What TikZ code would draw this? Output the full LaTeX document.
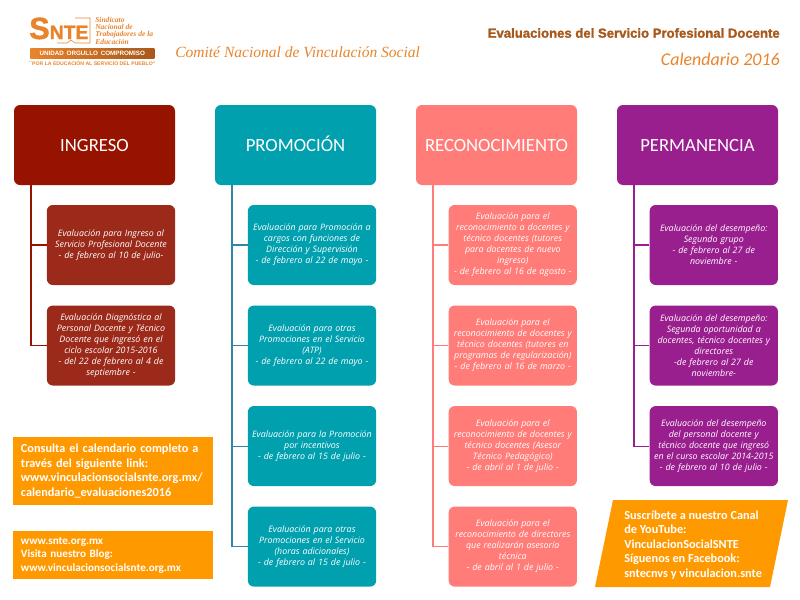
\documentclass[tikz,border=0pt]{standalone}
\usepackage{fontspec}
\setmainfont{Open Sans}
\newfontfamily\carlito{Carlito}
\newfontfamily\libsans{Liberation Sans}
\newfontfamily\libheavy[FakeBold=1.5]{Liberation Sans Bold}
\newfontfamily\libserif{Liberation Serif}
\usepackage{xcolor}
\usetikzlibrary{positioning,shapes.geometric}
\definecolor{ingresoC}{HTML}{961300}
\definecolor{ingresoS}{HTML}{9C2A1A}
\definecolor{promoC}{HTML}{00A0AF}
\definecolor{promoL}{HTML}{2F87A6}
\definecolor{recoC}{HTML}{FF7C78}
\definecolor{permaC}{HTML}{9A1F8E}
\definecolor{avisoC}{HTML}{FF9900}
\definecolor{logoC}{HTML}{E8842C}
\definecolor{logoD}{HTML}{A8581A}

\begin{document}
\begin{tikzpicture}[x=0.75pt,y=-0.75pt,
head/.style={draw=none, rounded corners=4.5pt, minimum width=120.75pt, minimum height=60pt,
    inner sep=0pt, text=white, text height=10pt, text depth=1pt,
    font=\carlito\fontsize{14}{16}\selectfont},
sub/.style={draw=none, rounded corners=4.5pt, minimum width=96.2pt, minimum height=60pt,
    text width=96pt, inner sep=0pt, align=center, text=white,
    font=\fontsize{6.65}{8.25}\selectfont\itshape},
aviso/.style={draw=none, fill=avisoC, inner sep=0pt, text=white, align=left,
    font=\carlito\bfseries},
link/.style={line width=0.85pt}]
\useasboundingbox (0,0) rectangle (800,600);

% logo
\node (snteS) [anchor=base west, inner sep=0pt, text=logoC, font=\libheavy\fontsize{23}{23}\selectfont] at (29,39) {S};
\node (snteN) [anchor=base west, inner sep=0pt, text=logoC, font=\libheavy\fontsize{14.5}{15}\selectfont] at (49.5,39) {NTE};
\draw[logoC, thin] (75,18) -- (90,18) -- (90,43) -- (75,43) -- (71,40) -- (67,43) -- (57,43);
\node (snteTxt) [anchor=west, inner sep=0pt, align=left, text=logoC,
    font=\libserif\bfseries\itshape\fontsize{5.65}{5}\selectfont] at (95,31) {Sindicato\\Nacional de\\Trabajadores de la\\Educación};
\node (snteBar) [anchor=west, inner sep=0pt, minimum width=93pt, minimum height=7.5pt, left color=logoC, right color=logoD,
    text=white, font=\libsans\bfseries\fontsize{4.7}{5}\selectfont] at (30,53) {UNIDAD\, ORGULLO\, COMPROMISO};
\node (snteLema) [inner sep=0pt, text=logoC, font=\libsans\bfseries\fontsize{3.85}{4}\selectfont] at (92,63) {``POR LA EDUCACIÓN AL SERVICIO DEL PUEBLO''};

% titulos
\node (comite) [anchor=west, inner sep=0pt, text=logoC, font=\libserif\itshape\fontsize{11.65}{14}\selectfont] at (175,52) {Comité Nacional de Vinculación Social};
\node (titulo) [anchor=east, inner sep=0pt, text=logoD, font=\libheavy\fontsize{9.85}{11}\selectfont] at (780,33) {Evaluaciones del Servicio Profesional Docente};
\node (calendario) [anchor=east, inner sep=0pt, text=logoC, font=\carlito\itshape\fontsize{13.45}{15}\selectfont] at (780,59) {Calendario 2016};

% encabezados
\node (ingreso) [head, fill=ingresoC] at (94.5,145) {INGRESO};
\node (promo) [head, fill=promoC] at (295.5,145) {PROMOCIÓN};
\node (reco) [head, fill=recoC] at (496.5,145) {RECONOCIMIENTO};
\node (perma) [head, fill=permaC] at (697.5,145) {PERMANENCIA};

% ingreso
\node (ing1) [sub, fill=ingresoS] at (111,245) {Evaluación para Ingreso al\\Servicio Profesional Docente\\- de febrero al 10 de julio-};
\node (ing2) [sub, fill=ingresoS, below=15pt of ing1] {Evaluación Diagnóstica al\\Personal Docente y Técnico\\Docente que ingresó en el\\ciclo escolar 2015-2016\\- del 22 de febrero al 4 de\\septiembre -};

% promocion
\node (pro1) [sub, fill=promoC] at (312,245) {Evaluación para Promoción a\\cargos con funciones de\\Dirección y Supervisión\\- de febrero al 22 de mayo -};
\node (pro2) [sub, fill=promoC, below=15pt of pro1] {Evaluación para otras\\Promociones en el Servicio\\(ATP)\\- de febrero al 22 de mayo -};
\node (pro3) [sub, fill=promoC, below=15pt of pro2] {Evaluación para la Promoción\\por incentivos\\- de febrero al 15 de julio -};
\node (pro4) [sub, fill=promoC, below=15pt of pro3] {Evaluación para otras\\Promociones en el Servicio\\(horas adicionales)\\- de febrero al 15 de julio -};

% reconocimiento
\node (rec1) [sub, fill=recoC] at (512.8,245) {Evaluación para el\\reconocimiento a docentes y\\técnico docentes (tutores\\para docentes de nuevo\\ingreso)\\- de febrero al 16 de agosto -};
\node (rec2) [sub, fill=recoC, below=15pt of rec1] {Evaluación para el\\reconocimiento de docentes y\\técnico docentes (tutores en\\programas de regularización)\\- de febrero al 16 de marzo -};
\node (rec3) [sub, fill=recoC, below=15pt of rec2] {Evaluación para el\\reconocimiento de docentes y\\técnico docentes (Asesor\\Técnico Pedagógico)\\- de abril al 1 de julio -};
\node (rec4) [sub, fill=recoC, below=15pt of rec3] {Evaluación para el\\reconocimiento de directores\\que realizarán asesoría\\técnica\\- de abril al 1 de julio -};

% permanencia
\node (per1) [sub, fill=permaC] at (713.8,245) {Evaluación del desempeño:\\Segundo grupo\\- de febrero al 27 de\\noviembre -};
\node (per2) [sub, fill=permaC, below=15pt of per1] {Evaluación del desempeño:\\Segunda oportunidad a\\docentes, técnico docentes y\\directores\\-de febrero al 27 de\\noviembre-};
\node (per3) [sub, fill=permaC, below=15pt of per2] {Evaluación del desempeño\\del personal docente y\\técnico docente que ingresó\\en el curso escolar 2014-2015\\- de febrero al 10 de julio -};

% conectores
\coordinate (ingT) at (31,185);
\coordinate (proT) at (232,185);
\coordinate (recT) at (433,185);
\coordinate (perT) at (634,185);
\draw[link, ingresoC] (ingT) |- (ing1.west);
\draw[link, ingresoC] (ingT) |- (ing2.west);
\draw[link, promoL] (proT) |- (pro1.west);
\draw[link, promoL] (proT) |- (pro2.west);
\draw[link, promoL] (proT) |- (pro3.west);
\draw[link, promoL] (proT) |- (pro4.west);
\draw[link, recoC] (recT) |- (rec1.west);
\draw[link, recoC] (recT) |- (rec2.west);
\draw[link, recoC] (recT) |- (rec3.west);
\draw[link, recoC] (recT) |- (rec4.west);
\draw[link, permaC] (perT) |- (per1.west);
\draw[link, permaC] (perT) |- (per2.west);
\draw[link, permaC] (perT) |- (per3.west);

% avisos
\node (consulta) [aviso, minimum width=150pt, minimum height=51pt, text width=138pt, font=\carlito\bfseries\fontsize{9.2}{11}\selectfont] at (113,471) {Consulta el calendario completo a\\través del siguiente link:\\www.vinculacionsocialsnte.org.mx/\\calendario\_evaluaciones2016};
\node (blog) [aviso, minimum width=150pt, minimum height=36pt, text width=138pt, font=\carlito\bfseries\fontsize{8.35}{10.1}\selectfont] at (113,555) {www.snte.org.mx\\Visita nuestro Blog:\\www.vinculacionsocialsnte.org.mx};
\fill[avisoC] (613,500) -- (788,500) -- (770,587) -- (595,587) -- cycle;
\node (canal) [anchor=west, inner sep=0pt, align=left, text=white, font=\carlito\bfseries\fontsize{9.2}{10.9}\selectfont] at (624,545) {Suscríbete a nuestro Canal\\de YouTube:\\VinculacionSocialSNTE\\Síguenos en Facebook:\\sntecnvs y vinculacion.snte};
\end{tikzpicture}
\end{document}
